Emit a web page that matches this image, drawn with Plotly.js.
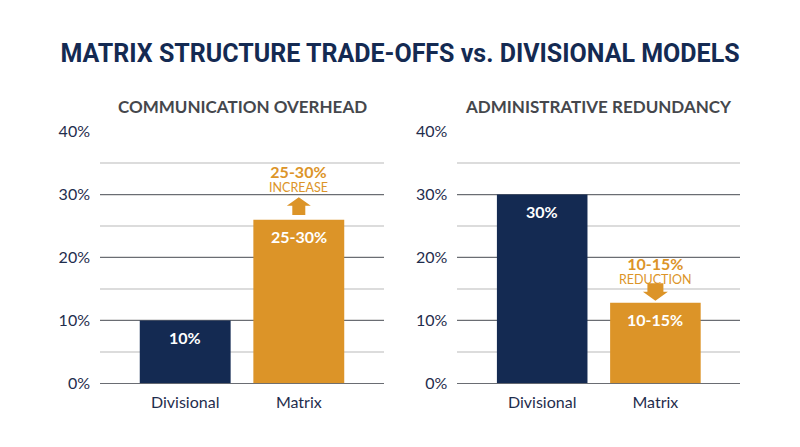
<!DOCTYPE html>
<html>
<head>
<meta charset="utf-8">
<script src="https://cdn.plot.ly/plotly-3.0.1.min.js"></script>
<style>html,body{margin:0;padding:0;background:#fff;}#chart{width:800px;height:447px;}</style>
</head>
<body>
<div id="chart"></div>
<script>
const categories = ['Divisional', 'Matrix'];
const commValues = [10, 26];
const commLabels = ['10%', '25-30%'];
const adminValues = [30, 12.8];
const adminLabels = ['30%', '10-15%'];
const changeLabels = ['25-30%', '10-15%'];
const changeWords = ['INCREASE', 'REDUCTION'];
const panelTitles = ['COMMUNICATION OVERHEAD', 'ADMINISTRATIVE REDUNDANCY'];
const yTicks = [0, 10, 20, 30, 40];
const yTickText = ['0%', '10%', '20%', '30%', '40%'];

const NAVY = '#142a52';
const ORANGE = '#dc9428';
const barColors = [NAVY, ORANGE];
const FONT = 'Lato, "Open Sans", sans-serif';

const traces = [
  {type: 'bar', x: categories, y: commValues, xaxis: 'x', yaxis: 'y',
   marker: {color: barColors}, width: 0.8, hoverinfo: 'none', textposition: 'none'},
  {type: 'bar', x: categories, y: adminValues, xaxis: 'x2', yaxis: 'y2',
   marker: {color: barColors}, width: 0.8, hoverinfo: 'none', textposition: 'none'}
];

function xAxis(domain, anchor) {
  return {domain: domain, anchor: anchor, range: [-0.75, 1.75], type: 'category',
    showgrid: false, zeroline: false, showline: false, ticks: '',
    tickfont: {family: FONT, size: 16, color: '#1f2d4d'}, ticklabelstandoff: 8, fixedrange: true};
}
function yAxis(anchor) {
  return {domain: [0.1425, 0.7054], anchor: anchor, range: [0, 40],
    tickvals: yTicks, ticktext: yTickText, showgrid: true, gridcolor: '#6a6d73', gridwidth: 1.5,
    zeroline: true, zerolinecolor: '#6a6d73', zerolinewidth: 1.5, showline: false, ticks: '',
    tickfont: {family: FONT, size: 16, color: '#1f2d4d'}, ticklabelstandoff: 9,
    minor: {dtick: 5, tick0: 0, showgrid: true, gridcolor: '#dcdcdc', gridwidth: 2},
    fixedrange: true};
}

const annotations = [];
const shapes = [];

// panel titles
[['x domain', 'y domain'], ['x2 domain', 'y2 domain']].forEach((r, i) => {
  annotations.push({xref: r[0], yref: r[1], x: 0.5, y: 1, yshift: 25, yanchor: 'middle',
    showarrow: false, text: '<b>' + panelTitles[i] + '</b>',
    font: {family: FONT, size: 17, color: '#45474c'}});
});

// labels inside bars
[[commValues, commLabels, 'x', 'y'], [adminValues, adminLabels, 'x2', 'y2']].forEach(p => {
  p[0].forEach((v, i) => {
    annotations.push({xref: p[2], yref: p[3], x: categories[i], y: v, yshift: -17,
      yanchor: 'middle', showarrow: false, text: '<b>' + p[1][i] + '</b>',
      font: {family: FONT, size: 16, color: '#ffffff'}});
  });
});

function callout(label, word) {
  return '<span style="font-size:16px"><b>' + label + '</b></span><br>' +
         '<span style="font-size:12.5px">' + word + '</span>';
}

// increase callout (left Matrix)
annotations.push({xref: 'x', yref: 'y', x: categories[1], y: commValues[1], yshift: 41,
  yanchor: 'middle', showarrow: false, text: callout(changeLabels[0], changeWords[0]),
  font: {family: FONT, size: 10.5, color: ORANGE}});
shapes.push({type: 'path', xref: 'x', yref: 'y', xsizemode: 'pixel', ysizemode: 'pixel',
  xanchor: categories[1], yanchor: commValues[1],
  path: 'M-6.5,4.7 L6.5,4.7 L6.5,14 L12,14 L0,22.5 L-12,14 L-6.5,14 Z',
  fillcolor: ORANGE, line: {width: 0}});

// reduction callout (right Matrix)
annotations.push({xref: 'x2', yref: 'y2', x: categories[1], y: adminValues[1], yshift: 32,
  yanchor: 'middle', showarrow: false, text: callout(changeLabels[1], changeWords[1]),
  font: {family: FONT, size: 10.5, color: ORANGE}});
shapes.push({type: 'path', xref: 'x2', yref: 'y2', xsizemode: 'pixel', ysizemode: 'pixel',
  xanchor: categories[1], yanchor: adminValues[1],
  path: 'M-8,19.5 L8,19.5 L8,11 L12.5,11 L0,2 L-12.5,11 L-8,11 Z',
  fillcolor: ORANGE, line: {width: 0}});

const layout = {
  width: 800, height: 447,
  margin: {l: 0, r: 0, t: 0, b: 0},
  paper_bgcolor: '#ffffff', plot_bgcolor: '#ffffff',
  showlegend: false, bargap: 0.2,
  title: {text: '<b>MATRIX STRUCTURE TRADE-OFFS vs. DIVISIONAL MODELS</b>',
    x: 0.5, xanchor: 'center', y: 0.88, yanchor: 'middle',
    font: {family: 'Roboto, sans-serif', size: 25, color: '#142a52'}},
  xaxis: xAxis([0.125, 0.48], 'y'),
  yaxis: yAxis('x'),
  xaxis2: xAxis([0.5716, 0.9254], 'y2'),
  yaxis2: yAxis('x2'),
  annotations: annotations,
  shapes: shapes
};

Plotly.newPlot('chart', traces, layout, {displayModeBar: false, staticPlot: true});
</script>
</body>
</html>
